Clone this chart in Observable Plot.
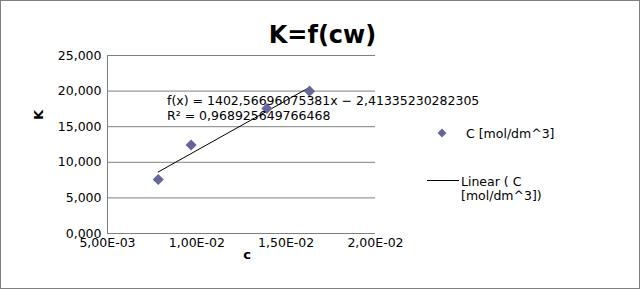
<!DOCTYPE html>
<html>
<head>
<meta charset="utf-8">
<script src="https://cdn.jsdelivr.net/npm/d3@7"></script>
<script src="https://cdn.jsdelivr.net/npm/@observablehq/plot@0.6"></script>
<style>
  html, body { margin: 0; padding: 0; background: #fff; }
  #chart { width: 640px; height: 289px; }
  svg { display: block; }
</style>
</head>
<body>
<div id="chart"></div>
<script>
const cValues = [0.00784, 0.00968, 0.01392, 0.01631];
const kValues = [7.58, 12.44, 17.56, 19.99];
const xTicks = [0.005, 0.01, 0.015, 0.02];
const yTicks = [0, 5, 10, 15, 20, 25];
const titleText = "K=f(cw)";
const xLabel = "c";
const yLabel = "K";
const equationLines = ["f(x) = 1402,56696075381x − 2,41335230282305", "R² = 0,968925649766468"];
const seriesName = "C [mol/dm^3]";
const trendNameLines = ["Linear ( C", "[mol/dm^3])"];

const data = cValues.map((c, i) => ({c, k: kValues[i]}));
const FONT = "DejaVu Sans, sans-serif";

const fmtY = d => d.toFixed(3).replace(".", ",");
const fmtX = d => {
  const [m, e] = d.toExponential(2).split("e");
  const n = +e;
  return m.replace(".", ",") + "E" + (n < 0 ? "-" : "+") + String(Math.abs(n)).padStart(2, "0");
};

const plot = Plot.plot({
  width: 640,
  height: 289,
  marginLeft: 107,
  marginRight: 265,
  marginTop: 55,
  marginBottom: 56,
  style: {fontFamily: FONT, fontSize: "12.5px", color: "#000", background: "#fff"},
  x: {domain: [0.005, 0.02], axis: null},
  y: {domain: [0, 25], axis: null},
  marks: [
    Plot.ruleY(yTicks, {stroke: "#808080", strokeWidth: 1}),
    Plot.ruleX([0.005], {stroke: "#808080", strokeWidth: 1}),
    Plot.axisY(yTicks, {tickSize: 0, tickPadding: 6, tickFormat: fmtY, fontSize: 12.5, label: null}),
    Plot.axisX(xTicks, {tickSize: 0, tickPadding: 5, tickFormat: fmtX, fontSize: 12.5, label: null}),
    Plot.linearRegressionY(data, {x: "c", y: "k", stroke: "#000", strokeWidth: 1, ci: 0}),
    Plot.dot(data, {x: "c", y: "k", symbol: "diamond2", r: 5, fill: "#66669c", stroke: "none"})
  ]
});

document.getElementById("chart").appendChild(plot);
const svg = d3.select(plot);
const txt = (x, y, s, size, opts = {}) => svg.append("text")
  .attr("x", x).attr("y", y)
  .attr("text-anchor", opts.anchor || "start")
  .attr("font-family", FONT)
  .attr("font-weight", opts.bold ? "bold" : "normal")
  .attr("font-size", size)
  .attr("fill", "#000")
  .attr("transform", opts.transform || null)
  .text(s);

// Border
svg.append("rect").attr("x", 0.5).attr("y", 0.5).attr("width", 639).attr("height", 288)
  .attr("fill", "none").attr("stroke", "#808080");

// Title
txt(322.5, 42.5, titleText, 24, {anchor: "middle", bold: true});

// Axis labels
txt(0, 0, yLabel, 13, {anchor: "middle", bold: true, transform: "translate(43,115) rotate(-90)"});
txt(247, 259, xLabel, 13, {anchor: "middle", bold: true});

// Equation
equationLines.forEach((t, i) => txt(167, 104.5 + i * 15, t, 12.5));

// Legend
svg.append("path").attr("d", d3.symbol(d3.symbolDiamond2, Math.PI * 16)()).attr("transform", "translate(442,133)")
  .attr("fill", "#66669c");
txt(466, 137.5, seriesName, 12.5);
svg.append("line").attr("x1", 427).attr("x2", 459).attr("y1", 180.5).attr("y2", 180.5).attr("stroke", "#000");
trendNameLines.forEach((t, i) => txt(461, 185.5 + i * 14.5, t, 12.5));
</script>
</body>
</html>
